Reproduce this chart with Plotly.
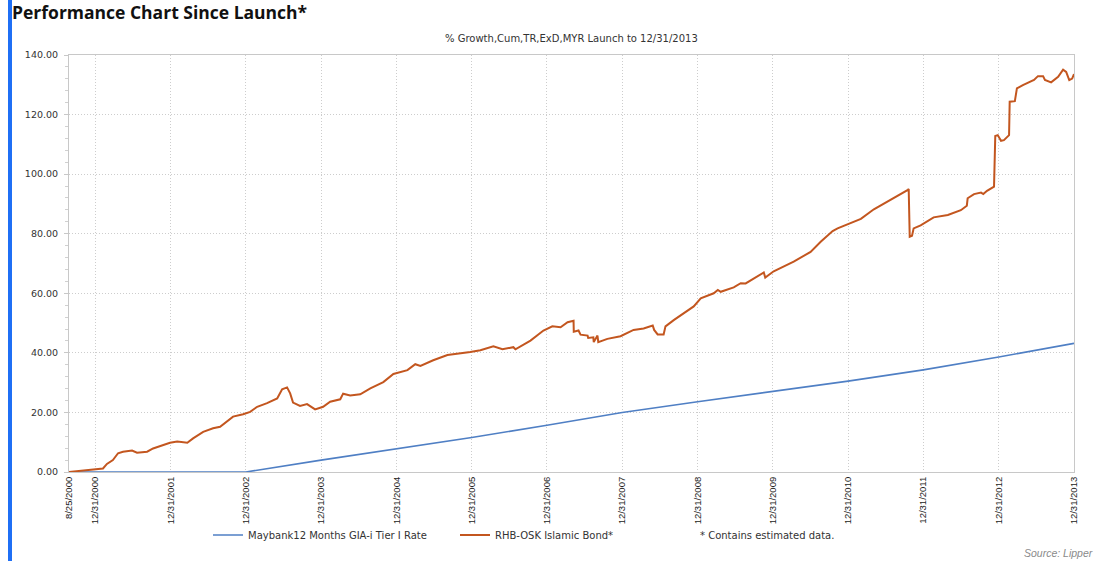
import plotly.graph_objects as go

# ---------------- data ----------------
tick_dates = ["2000-08-25", "2000-12-31", "2001-12-31", "2002-12-31", "2003-12-31",
              "2004-12-31", "2005-12-31", "2006-12-31", "2007-12-31", "2008-12-31",
              "2009-12-31", "2010-12-31", "2011-12-31", "2012-12-31", "2013-12-31"]
tick_labels = ["8/25/2000", "12/31/2000", "12/31/2001", "12/31/2002", "12/31/2003",
               "12/31/2004", "12/31/2005", "12/31/2006", "12/31/2007", "12/31/2008",
               "12/31/2009", "12/31/2010", "12/31/2011", "12/31/2012", "12/31/2013"]

maybank_dates = ["2000-08-25", "2002-12-31", "2003-12-31", "2004-12-31", "2005-12-31",
                 "2006-12-31", "2007-12-31", "2008-12-31", "2009-12-31", "2010-12-31",
                 "2011-12-31", "2012-12-31", "2013-12-31"]
maybank_values = [0.0, 0.0, 4.0, 7.8, 11.6, 15.7, 20.0, 23.6, 27.0, 30.5, 34.3, 38.6, 43.2]

rhb_dates = ["2000-08-25", "2000-12-19", "2001-02-06", "2001-02-25", "2001-03-26", "2001-04-20",
             "2001-05-14", "2001-06-27", "2001-07-21", "2001-09-08", "2001-10-07", "2001-12-28",
             "2002-02-01", "2002-03-22", "2002-04-19", "2002-06-07", "2002-07-25", "2002-08-28",
             "2002-10-01", "2002-10-30", "2002-12-18", "2003-01-21", "2003-02-24", "2003-04-13",
             "2003-06-01", "2003-06-25", "2003-07-19", "2003-08-03", "2003-08-17", "2003-09-20",
             "2003-10-24", "2003-12-02", "2004-01-10", "2004-02-13", "2004-04-02", "2004-04-16",
             "2004-05-20", "2004-07-08", "2004-08-26", "2004-10-28", "2004-12-16", "2005-02-22",
             "2005-04-01", "2005-04-26", "2005-06-27", "2005-09-04", "2005-12-24", "2006-02-11",
             "2006-04-15", "2006-05-29", "2006-07-21", "2006-07-31", "2006-10-12", "2006-12-14",
             "2007-01-26", "2007-03-07", "2007-04-10", "2007-05-09", "2007-05-10", "2007-06-02",
             "2007-06-12", "2007-07-16", "2007-07-19", "2007-08-13", "2007-08-15", "2007-09-02",
             "2007-09-06", "2007-10-20", "2007-12-23", "2008-02-24", "2008-04-13", "2008-05-27",
             "2008-06-03", "2008-06-20", "2008-07-19", "2008-07-28", "2008-09-06", "2008-10-10",
             "2008-12-12", "2009-01-15", "2009-03-19", "2009-04-08", "2009-04-22", "2009-06-24",
             "2009-07-28", "2009-08-21", "2009-11-17", "2009-11-24", "2010-01-04", "2010-04-11",
             "2010-07-02", "2010-08-20", "2010-10-17", "2010-11-10", "2010-12-29", "2011-03-03",
             "2011-05-05", "2011-07-26", "2011-10-17", "2011-10-21", "2011-10-26", "2011-11-06",
             "2011-11-14", "2011-12-18", "2012-02-19", "2012-04-28", "2012-06-30", "2012-07-29",
             "2012-08-02", "2012-09-02", "2012-10-06", "2012-10-17", "2012-11-04", "2012-12-08",
             "2012-12-14", "2012-12-26", "2013-01-11", "2013-01-25", "2013-02-19", "2013-02-22",
             "2013-03-19", "2013-03-29", "2013-04-27", "2013-06-20", "2013-07-09", "2013-08-03",
             "2013-08-12", "2013-09-11", "2013-10-15", "2013-11-08", "2013-11-23", "2013-12-08",
             "2013-12-22", "2013-12-31"]
rhb_values = [0.0, 0.7, 1.2, 2.7, 4.0, 6.3,
              6.8, 7.2, 6.5, 6.8, 7.9, 9.8,
              10.2, 9.8, 11.3, 13.5, 14.7, 15.2,
              16.9, 18.6, 19.4, 20.2, 21.9, 23.1,
              24.7, 27.8, 28.4, 26.4, 23.3, 22.2,
              22.8, 21.0, 21.9, 23.6, 24.4, 26.3,
              25.7, 26.1, 28.1, 30.2, 32.9, 34.2,
              36.2, 35.6, 37.5, 39.3, 40.3, 40.9,
              42.2, 41.2, 41.9, 41.2, 44.1, 47.5,
              48.9, 48.6, 50.3, 50.8, 47.1, 47.5,
              46.1, 45.8, 45.0, 45.2, 43.6, 45.8,
              43.6, 44.7, 45.6, 47.7, 48.2, 49.2,
              47.7, 46.2, 46.2, 48.9, 51.0, 52.6,
              55.6, 58.3, 60.0, 61.1, 60.5, 62.0,
              63.4, 63.3, 67.0, 65.3, 67.4, 70.6,
              73.9, 77.3, 80.9, 81.8, 83.2, 85.0,
              88.2, 91.3, 94.7, 95.0, 79.0, 79.3,
              81.8, 82.8, 85.5, 86.3, 87.9, 89.4,
              91.9, 93.3, 93.8, 93.3, 94.4, 95.8,
              112.8, 113.1, 111.2, 111.4, 113.1, 124.3,
              124.5, 128.8, 129.9, 131.6, 132.9, 132.9,
              131.6, 130.8, 132.7, 135.1, 134.3, 131.6,
              132.1, 133.6]

series_names = ["Maybank12 Months GIA-i Tier I Rate", "RHB-OSK Islamic Bond*"]
series_colors = ["#4f7fc4", "#c3561f"]

# ---------------- figure ----------------
W, H = 1106, 561
L, R, T, B = 69, 32, 55, 89
pw, ph = W - L - R, H - T - B


def px_x(p):
    return (p - L) / pw


def px_y(p):
    return (H - B - p) / ph


fig = go.Figure()
fig.add_trace(go.Scatter(x=maybank_dates, y=maybank_values, mode="lines",
                         name=series_names[0],
                         line=dict(color=series_colors[0], width=1.6)))
fig.add_trace(go.Scatter(x=rhb_dates, y=rhb_values, mode="lines",
                         name=series_names[1],
                         line=dict(color=series_colors[1], width=2)))

grid_col = "#cdcdcd"
small_font = "DejaVu Sans, Verdana"
fig.update_xaxes(
    type="date", range=["2000-08-25", "2013-12-31"],
    tickmode="array", tickvals=tick_dates, ticktext=tick_labels,
    tickangle=-90,
    tickfont=dict(family="Liberation Sans Narrow, Arial Narrow, Liberation Sans, Arial", size=9.5, color="#222"),
    showgrid=True, gridcolor=grid_col, griddash="1px,2px", gridwidth=1,
    showline=True, linecolor="#c8c8c8", linewidth=1, mirror=True,
    ticks="", zeroline=False,
)
fig.update_yaxes(
    range=[0, 140], tickmode="linear", tick0=0, dtick=20, tickformat=".2f",
    tickfont=dict(family=small_font, size=9.5, color="#333"),
    ticklabelstandoff=4,
    showgrid=True, gridcolor=grid_col, griddash="1px,2px", gridwidth=1,
    showline=True, linecolor="#c8c8c8", linewidth=1, mirror=True,
    ticks="outside", ticklen=4, tickcolor="#c8c8c8",
    minor=dict(dtick=4, ticks="outside", ticklen=3, tickcolor="#d0d0d0", showgrid=False),
    zeroline=False,
)

fig.update_layout(
    width=W, height=H,
    margin=dict(l=L, r=R, t=T, b=B, autoexpand=False),
    paper_bgcolor="white", plot_bgcolor="white",
    title=dict(text="<b>Performance Chart Since Launch*</b>",
               x=12 / W, xanchor="left", xref="container",
               y=1 - 13 / H, yanchor="middle", yref="container",
               font=dict(family="Open Sans, Lato, Arial", size=17.5, color="#111")),
    showlegend=True,
    legend=dict(orientation="h", x=px_x(208), xanchor="left",
                y=px_y(535), yanchor="middle",
                entrywidth=202, entrywidthmode="pixels",
                font=dict(family=small_font, size=10, color="#333"),
                bgcolor="rgba(0,0,0,0)", borderwidth=0),
)

fig.add_annotation(text="% Growth,Cum,TR,ExD,MYR Launch to 12/31/2013",
                   xref="paper", yref="paper", x=0.5, y=px_y(38),
                   xanchor="center", yanchor="middle", showarrow=False,
                   font=dict(family=small_font, size=10, color="#333"))
fig.add_annotation(text="* Contains estimated data.",
                   xref="paper", yref="paper", x=px_x(698), y=px_y(535),
                   xanchor="left", yanchor="middle", showarrow=False,
                   font=dict(family=small_font, size=10, color="#333"))
fig.add_annotation(text="<i>Source: Lipper</i>",
                   xref="paper", yref="paper", x=px_x(1095), y=px_y(553),
                   xanchor="right", yanchor="middle", showarrow=False,
                   font=dict(family="Liberation Sans, Arial", size=10.5, color="#8a8a8a"))

# left accent bar
fig.add_shape(type="rect", xref="paper", yref="paper",
              x0=px_x(8), x1=px_x(12), y0=px_y(H), y1=px_y(0),
              fillcolor="#1f6ff5", line=dict(width=0), layer="above")

fig.write_html("out.html",
               config={"displayModeBar": False},
               post_script="document.body.style.margin='0px';document.body.style.overflow='hidden';")
